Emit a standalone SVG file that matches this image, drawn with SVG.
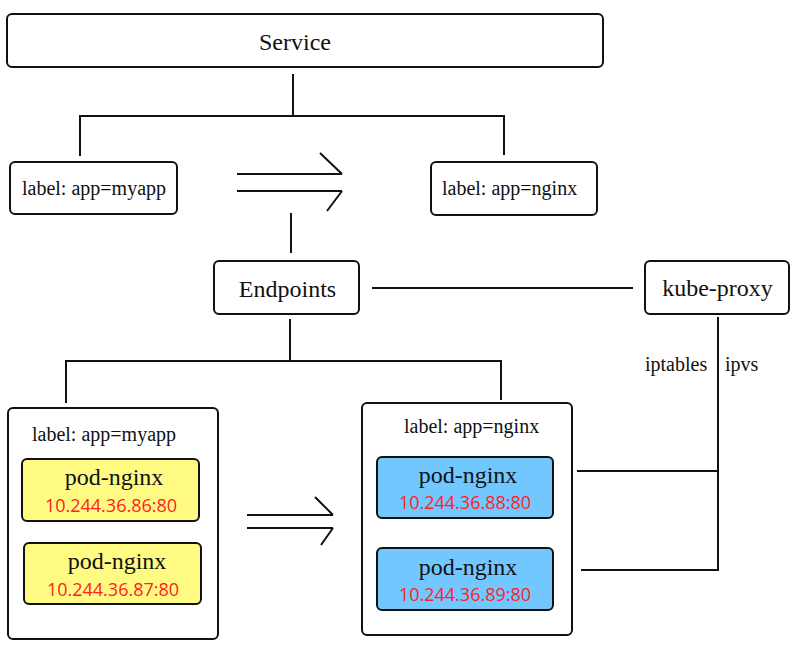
<svg xmlns="http://www.w3.org/2000/svg" width="793" height="646" viewBox="0 0 793 646">
<style>
.box{fill:#fff;stroke:#111;stroke-width:2}
.yel{fill:#fffb82;stroke:#111;stroke-width:2}
.blu{fill:#73c7ff;stroke:#111;stroke-width:2}
.ln{fill:none;stroke:#111;stroke-width:2}
.t{font-family:"Liberation Serif","DejaVu Serif",serif;fill:#111}
.big{font-size:24px;text-anchor:middle}
.lbl{font-size:20px}
.ip{font-family:"Open Sans","Noto Sans",sans-serif;font-size:18px;fill:#f22;text-anchor:middle}
</style>
<rect width="793" height="646" fill="#fff"/>
<g id="connectors">
<path class="ln" d="M293 74V116M80 156V116H504V155"/>
<path class="ln" d="M237 174H342M237 191H342M320 153L342 174M342 191L327 211"/>
<path class="ln" d="M291 213V253"/>
<path class="ln" d="M372 288H633"/>
<path class="ln" d="M290 319V361M66 403V361H501V400"/>
<path class="ln" d="M247 515H333M247 528H333M315 497L333 515M333 528L321 545"/>
<path class="ln" d="M718 317V570H581M577 471H718"/>
<text class="t lbl" x="645" y="371">iptables</text>
<text class="t lbl" x="725" y="371">ipvs</text>
</g>
<g id="service">
<rect class="box" x="7" y="14" width="596" height="53" rx="5"/>
<text class="t big" x="295" y="50">Service</text>
</g>
<g id="label-myapp">
<rect class="box" x="10" y="162" width="167" height="52" rx="5"/>
<text class="t lbl" x="22" y="195">label: app=myapp</text>
</g>
<g id="label-nginx">
<rect class="box" x="431" y="162" width="166" height="53" rx="5"/>
<text class="t lbl" x="442" y="195">label: app=nginx</text>
</g>
<g id="endpoints">
<rect class="box" x="214" y="261" width="145" height="53" rx="5"/>
<text class="t big" x="287.5" y="297">Endpoints</text>
</g>
<g id="kube-proxy">
<rect class="box" x="645" y="261" width="144" height="53" rx="5"/>
<text class="t big" x="717.5" y="296">kube-proxy</text>
</g>
<g id="group-myapp">
<rect class="box" x="8" y="408" width="210" height="231" rx="5"/>
<text class="t lbl" x="32" y="441">label: app=myapp</text>
</g>
<g id="pod-86">
<rect class="yel" x="22" y="459" width="177" height="62" rx="5"/>
<text class="t big" x="114" y="485">pod-nginx</text>
<text class="ip" x="111" y="512">10.244.36.86:80</text>
</g>
<g id="pod-87">
<rect class="yel" x="24" y="543" width="177" height="61" rx="5"/>
<text class="t big" x="117" y="569">pod-nginx</text>
<text class="ip" x="113" y="596">10.244.36.87:80</text>
</g>
<g id="group-nginx">
<rect class="box" x="362" y="403" width="210" height="232" rx="5"/>
<text class="t lbl" x="404" y="433">label: app=nginx</text>
</g>
<g id="pod-88">
<rect class="blu" x="377" y="457" width="176" height="61" rx="5"/>
<text class="t big" x="468" y="483">pod-nginx</text>
<text class="ip" x="465" y="509">10.244.36.88:80</text>
</g>
<g id="pod-89">
<rect class="blu" x="377" y="548" width="176" height="62" rx="5"/>
<text class="t big" x="468" y="575">pod-nginx</text>
<text class="ip" x="465" y="601">10.244.36.89:80</text>
</g>
</svg>
